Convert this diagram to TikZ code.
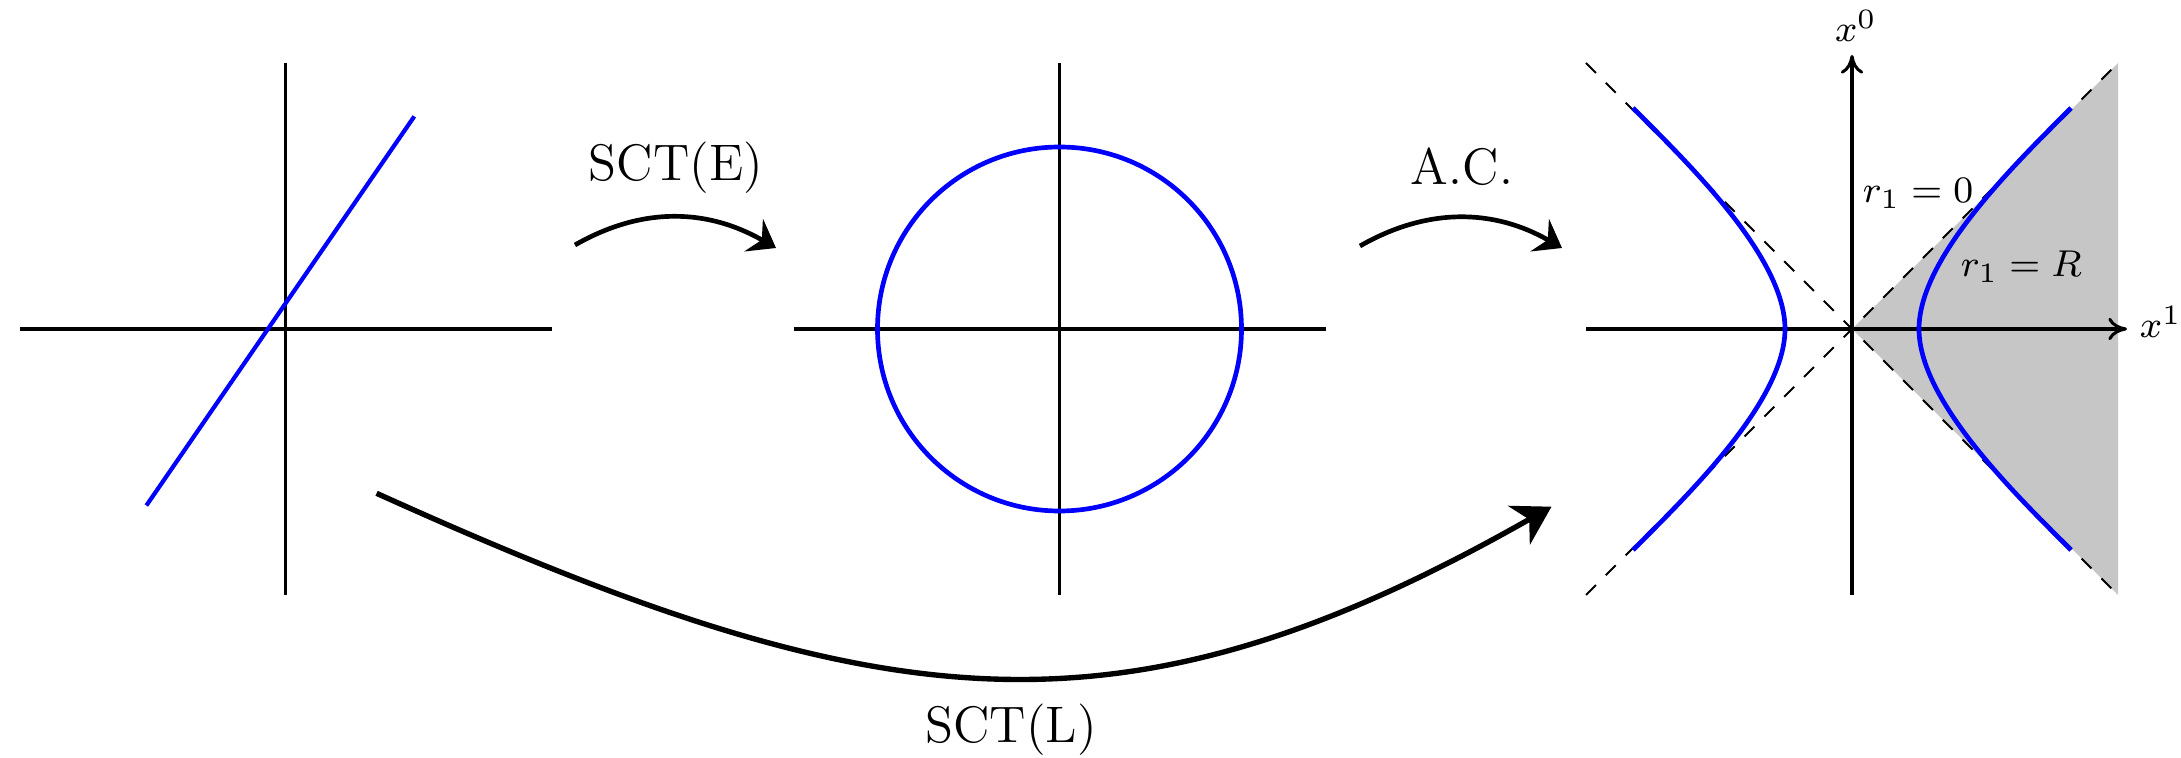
\documentclass[tikz,border=0pt]{standalone}
\usetikzlibrary{arrows.meta}
\begin{document}
\begin{tikzpicture}[x=0.0075188cm, y=-0.0075188cm,
  axis/.style={line width=0.65pt},
  axarrow/.style={axis, -{Computer Modern Rightarrow[length=4pt,width=4.8pt]}},
  curve/.style={blue, line width=1pt},
  cone/.style={dashed, line width=0.4pt},
  maparrow/.style={line width=1pt, -{Stealth[length=5.5pt,width=8pt,inset=2pt]}},
  bigarrow/.style={line width=1.15pt, -{Stealth[length=8pt,width=9.5pt,inset=2.5pt]}},
  lbl/.style={font=\fontsize{11}{13}\selectfont, inner sep=0pt},
  slbl/.style={font=\footnotesize, inner sep=0pt}]
\useasboundingbox (0,0) rectangle (2181,758);

% ---------- left panel: Euclidean line ----------
\draw[axis] (19.5,329) -- (551.5,329);
\draw[axis] (285.5,63) -- (285.5,595);
\draw[blue, line width=0.9pt] (146.4,505.5) -- (414.3,116.4);

% ---------- middle panel: circle ----------
\draw[axis] (793.5,329) -- (1325.5,329);
\draw[axis] (1059.5,63) -- (1059.5,595);
\draw[curve] (1059.5,329) circle[radius=182];

% ---------- right panel: Lorentzian ----------
\fill[gray!45] (1852,329) -- (2118,63) -- (2118,595) -- cycle;
\draw[cone] (1586,63) -- (2118,595);
\draw[cone] (1586,595) -- (2118,63);
\draw[axarrow] (1586,329) -- (2127,329);
\draw[axarrow] (1852,595) -- (1852,55);
\draw[curve] (2071,108) .. controls (2013,166) and (1919,258) .. (1919,329)
             .. controls (1919,400) and (2013,492) .. (2071,550);
\draw[curve] (1633,108) .. controls (1691,166) and (1785,258) .. (1785,329)
             .. controls (1785,400) and (1691,492) .. (1633,550);
\node[slbl, anchor=base] (x0) at (1856,42) {$x^0$};
\node[slbl, anchor=base west] (x1) at (2139,338) {$x^1$};
\node[slbl, anchor=base west] (r0) at (1862,203) {$r_1=0$};
\node[slbl, anchor=base west] (rR) at (1960,277) {$r_1=R$};

% ---------- maps ----------
\node[lbl, anchor=base] (sctE) at (676,181) {SCT(E)};
\node[lbl, anchor=base] (ac) at (1462,185) {A.C.};
\node[lbl, anchor=base] (sctL) at (1011,743) {SCT(L)};

\coordinate (eS) at (575,245);
\coordinate (eT) at (776,248);
\draw[maparrow] (eS) .. controls +(68,-39) and +(-68,-39) .. (eT);

\coordinate (aS) at (1360,246);
\coordinate (aT) at (1562,248);
\draw[maparrow] (aS) .. controls +(68,-39) and +(-68,-39) .. (aT);

\coordinate (lS) at (376.6,493.3);
\coordinate (lT) at (1551.5,506.7);
\draw[bigarrow] (lS) .. controls (880,721) and (1120,752) .. (lT);
\end{tikzpicture}
\end{document}
